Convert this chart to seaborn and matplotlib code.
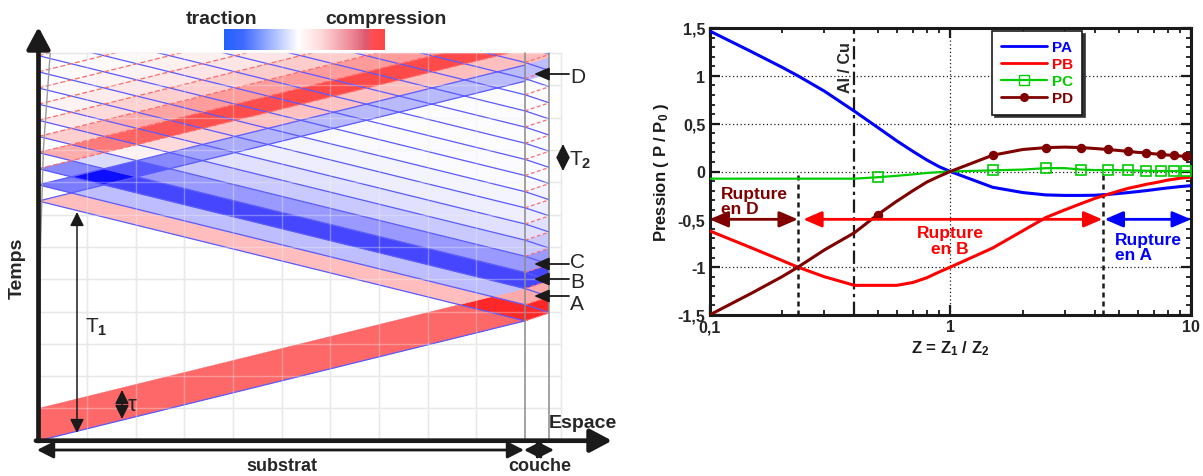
import numpy as np
import matplotlib
matplotlib.use("Agg")
import matplotlib.pyplot as plt
import seaborn as sns
from matplotlib.colors import LinearSegmentedColormap, Normalize
from matplotlib.lines import Line2D
from matplotlib.patches import Polygon, Rectangle
from matplotlib.ticker import MultipleLocator, LogLocator, NullFormatter

# ----------------------------------------------------------------- data (right chart)
z = [0.1, 0.15, 0.2, 0.233, 0.3, 0.4, 0.5, 0.6, 0.7, 0.8, 0.9, 1.0, 1.5, 2.0, 2.5,
     3.0, 3.5, 4.0, 4.5, 5.0, 5.5, 6.0, 6.5, 7.0, 7.5, 8.0, 8.5, 9.0, 9.5, 10.0]
PA = [1.47, 1.25, 1.09, 1.0, 0.84, 0.63, 0.46, 0.32, 0.21, 0.12, 0.05, 0.0, -0.165, -0.22, -0.245,
      -0.25, -0.25, -0.248, -0.24, -0.23, -0.22, -0.21, -0.2, -0.19, -0.18, -0.172, -0.165, -0.158, -0.153, -0.148]
PB = [-0.62, -0.8, -0.93, -1.0, -1.1, -1.19, -1.19, -1.19, -1.16, -1.11, -1.05, -1.0, -0.8, -0.62, -0.48,
      -0.40, -0.335, -0.28, -0.24, -0.205, -0.175, -0.155, -0.135, -0.12, -0.105, -0.09, -0.08, -0.07, -0.065, -0.06]
PC = [-0.075, -0.075, -0.075, -0.075, -0.075, -0.075, -0.06, -0.045, -0.03, -0.015, -0.007, 0.0, 0.012, 0.02, 0.035,
      0.035, 0.02, 0.015, 0.015, 0.015, 0.012, 0.01, 0.008, 0.006, 0.005, 0.005, 0.005, 0.005, 0.005, 0.005]
PD = [-1.5, -1.27, -1.1, -1.0, -0.82, -0.64, -0.45, -0.31, -0.2, -0.11, -0.05, 0.0, 0.17, 0.23, 0.25,
      0.255, 0.25, 0.24, 0.23, 0.22, 0.21, 0.2, 0.195, 0.185, 0.18, 0.172, 0.168, 0.162, 0.158, 0.152]
z_markers = [0.5, 1.5, 2.5, 3.5, 4.5, 5.5, 6.5, 7.5, 8.5, 9.5]
series_names = ["PA", "PB", "PC", "PD"]
rupture_limits = [0.233, 4.33]
al_cu = 0.4
y_ticks = [-1.5, -1.0, -0.5, 0.0, 0.5, 1.0, 1.5]
y_tick_labels = ["-1,5", "-1", "-0,5", "0", "0,5", "1", "1,5"]
x_ticks = [0.1, 1, 10]
x_tick_labels = ["0,1", "1", "10"]

# ----------------------------------------------------------------- data (left diagram)
a_sub = 0.371          # time per unit length in substrate
a_coat = 0.5           # time per unit length in coating
L_sub, L_coat = 10.0, 0.5
t_top = 12.0
tau = 1.0              # pulse duration
inc_val = 0.62         # incident compression level
dt_band = 0.5          # reverberation period in coating (T2)
g_vals = [0.27, -0.27, -0.76, -0.42, -0.22, -0.12, -0.07, -0.04, -0.02, -0.02,
          -0.015, -0.015, -0.012, -0.012, -0.011, -0.011, -0.011, -0.011]

# ----------------------------------------------------------------- style
sns.set_theme(style="white")
plt.rcParams["font.family"] = ["Liberation Sans", "DejaVu Sans"]
plt.rcParams["mathtext.fontset"] = "custom"
plt.rcParams["mathtext.rm"] = "Liberation Sans:bold"
plt.rcParams["mathtext.bf"] = "Liberation Sans:bold"
plt.rcParams["mathtext.it"] = "Liberation Sans:bold"

fig = plt.figure(figsize=(12.03, 4.77), dpi=100)

# ================================================================= LEFT DIAGRAM
PX0, PXU = 38.5, 48.65
PY0, PYU = 441.7, 32.3
def ux(px):
    return (px - PX0) / PXU
def ut(py):
    return (PY0 - py) / PYU

axL = fig.add_axes([0, 0, 620 / 1203, 1])
axL.set_xlim(ux(0), ux(620))
axL.set_ylim(ut(477), ut(0))
axL.axis("off")

band_cmap = LinearSegmentedColormap.from_list("bw_r", [(0, 0, 1), (1, 1, 1), (1, 0, 0)])
bnorm = Normalize(-1, 1)

# light grid (under and faintly over the bands)
for zo, col, al in [(0, "#e2e2e2", 1.0), (2.5, "#f4f4f4", 0.35)]:
    for gx in list(range(1, 10)) + [10.75]:
        axL.plot([gx, gx], [0, t_top], color=col, lw=1, zorder=zo, alpha=al)
    for gt in range(1, 13):
        axL.plot([0, 10.75], [gt, gt], color=col, lw=1, zorder=zo, alpha=al)

clip_sub = Rectangle((0, 0), L_sub, t_top, transform=axL.transData)
clip_coat = Rectangle((L_sub, 0), L_coat, t_top, transform=axL.transData)

t_arr = L_sub * a_sub
T_ref = 2 * t_arr

def partition(intervals, lo, hi):
    out, cur = [], lo
    for a0, b0, v in intervals:
        if a0 > cur:
            out.append((cur, a0, 0.0))
        out.append((a0, b0, v))
        cur = b0
    if cur < hi:
        out.append((cur, hi, 0.0))
    return out

right_int = [(0.0, tau, inc_val)] + [(T_ref + k * dt_band, T_ref + (k + 1) * dt_band, -g)
                                      for k, g in enumerate(g_vals) if T_ref + k * dt_band < t_top]
left_int = [(T_ref + k * dt_band, T_ref + (k + 1) * dt_band, g) for k, g in enumerate(g_vals)]
R = partition(right_int, -5.0, 13.0)
S = partition(left_int, -2.0, 17.0)

def pt(r, s):
    return ((s - r) / (2 * a_sub), (s + r) / 2)

for r0, r1, fv in R:
    for s0, s1, gv in S:
        v = fv + gv
        if abs(v) < 0.01:
            continue
        col = band_cmap(bnorm(np.clip(v, -1, 1)))
        poly = Polygon([pt(r0, s0), pt(r1, s0), pt(r1, s1), pt(r0, s1)], closed=True,
                       facecolor=col, edgecolor=col, lw=0.3, alpha=0.95, zorder=1)
        axL.add_patch(poly)
        poly.set_clip_path(clip_sub)

# coating cells
for k, g in enumerate(g_vals):
    u0 = t_arr + k * dt_band
    v = g + (inc_val if (k + 1) * dt_band <= tau + 1e-9 else 0.0)
    col = band_cmap(bnorm(np.clip(v, -1, 1)))
    poly = Polygon([(L_sub, u0), (L_sub + L_coat, u0 + L_coat * a_coat),
                    (L_sub + L_coat, u0 + L_coat * a_coat + dt_band), (L_sub, u0 + dt_band)],
                   closed=True, facecolor=col, edgecolor=col, lw=0.3, alpha=0.95, zorder=1)
    axL.add_patch(poly)
    poly.set_clip_path(clip_coat)
for k, g in enumerate(g_vals[:3]):
    u0 = T_ref + t_arr + k * dt_band
    col = band_cmap(bnorm(np.clip(-g, -1, 1)))
    poly = Polygon([(L_sub, u0), (L_sub + L_coat, u0 + L_coat * a_coat),
                    (L_sub + L_coat, u0 + L_coat * a_coat + dt_band), (L_sub, u0 + dt_band)],
                   closed=True, facecolor=col, edgecolor=col, lw=0.3, alpha=0.95, zorder=1)
    axL.add_patch(poly)
    poly.set_clip_path(clip_coat)

# boundary lines in substrate
xs = np.array([0.0, L_sub])
blue_line = "#5a5aff"
red_line = "#ff6a6a"
for s0, s1, g in left_int:
    ln, = axL.plot(xs, s0 - a_sub * xs, color=blue_line, lw=0.9, zorder=2)
    ln.set_clip_path(clip_sub)
ln, = axL.plot(xs, left_int[-1][1] - a_sub * xs, color=blue_line, lw=0.9, zorder=2)
ln.set_clip_path(clip_sub)
ln, = axL.plot(xs, 0.0 + a_sub * xs, color=blue_line, lw=0.9, zorder=2)
ln.set_clip_path(clip_sub)
for j, (r0, r1, v) in enumerate(right_int[1:]):
    if j < 2:
        ln, = axL.plot(xs, r0 + a_sub * xs, color=blue_line, lw=0.9, zorder=2)
    else:
        ln, = axL.plot(xs, r0 + a_sub * xs, color=red_line, lw=0.9, ls=(0, (4, 2)), zorder=2)
    ln.set_clip_path(clip_sub)
# zigzag in coating
for k in range(len(g_vals) + 2):
    u0 = t_arr + k * dt_band
    if u0 > t_top:
        break
    ln, = axL.plot([L_sub, L_sub + L_coat], [u0, u0 + L_coat * a_coat], color=red_line, lw=0.9,
                   ls=(0, (3, 2)), zorder=2)
    ln.set_clip_path(clip_coat)
    ln, = axL.plot([L_sub + L_coat, L_sub], [u0 + L_coat * a_coat, u0 + dt_band], color=blue_line,
                   lw=0.9, zorder=2)
    ln.set_clip_path(clip_coat)

# interface, surface and left boundary
axL.plot([L_sub, L_sub], [0, t_top], color="#8a8a8a", lw=1.1, zorder=3)
axL.plot([L_sub + L_coat, L_sub + L_coat], [0, t_top], color="#8a8a8a", lw=1.1, zorder=3)
axL.plot([0.02, 0.04, 0.1, 0.24], [0, 6, 9, t_top], color="#9a9a9a", lw=1.0, zorder=3)

# axes arrows
axL.annotate("", xy=(ux(38.5), ut(28)), xytext=(ux(38.5), ut(442)),
             arrowprops=dict(arrowstyle="-|>,head_length=0.6,head_width=0.32", lw=3.4, color="k",
                             mutation_scale=22, shrinkA=0, shrinkB=0), zorder=5)
axL.annotate("", xy=(ux(612), ut(441.7)), xytext=(ux(36), ut(441.7)),
             arrowprops=dict(arrowstyle="-|>,head_length=0.6,head_width=0.32", lw=3.4, color="k",
                             mutation_scale=22, shrinkA=0, shrinkB=0), zorder=5)
# substrate / coating arrows
darr = dict(arrowstyle="<|-|>,head_length=0.55,head_width=0.28", lw=2.0, color="k",
            mutation_scale=18, shrinkA=0, shrinkB=0)
axL.annotate("", xy=(ux(37), ut(451)), xytext=(ux(524), ut(451)), arrowprops=darr)
axL.annotate("", xy=(ux(524), ut(451)), xytext=(ux(554), ut(451)), arrowprops=darr)
axL.text(ux(282), ut(467), "substrat", ha="center", va="center", fontsize=13, fontweight="bold")
axL.text(ux(540), ut(467), "couche", ha="center", va="center", fontsize=13, fontweight="bold")
axL.text(ux(583), ut(424), "Espace", ha="center", va="center", fontsize=14, fontweight="bold")
axL.text(ux(17), ut(268), "Temps", ha="center", va="center", rotation=90, fontsize=14,
         fontweight="bold")

# colour bar
grad = np.linspace(0, 1, 256).reshape(1, -1)
bar_cmap = LinearSegmentedColormap.from_list("bar", [
    (0.0, (0.13, 0.38, 1.0)), (0.12, (0.25, 0.42, 1.0)), (0.46, (1.0, 1.0, 1.0)),
    (0.6, (1.0, 0.86, 0.86)), (0.8, (0.93, 0.52, 0.58)), (0.88, (0.86, 0.36, 0.45)),
    (0.93, (1.0, 0.3, 0.32)), (1.0, (1.0, 0.27, 0.27))])
axL.imshow(grad, cmap=bar_cmap, aspect="auto", extent=(ux(224), ux(385), ut(51), ut(30)), zorder=4)
axL.text(ux(222), ut(19), "traction", ha="center", va="center", fontsize=14, fontweight="bold")
axL.text(ux(386), ut(19), "compression", ha="center", va="center", fontsize=14, fontweight="bold")

# T1, tau, T2
thin = dict(arrowstyle="<|-|>,head_length=0.6,head_width=0.3", lw=1.1, color="k",
            mutation_scale=14, shrinkA=0, shrinkB=0)
axL.annotate("", xy=(ux(77), ut(434)), xytext=(ux(77), ut(213)), arrowprops=thin, zorder=6)
axL.text(ux(85), ut(327), "T$_1$", ha="left", va="center", fontsize=15)
axL.annotate("", xy=(ux(122), ut(420)), xytext=(ux(122), ut(391)), arrowprops=thin, zorder=6)
axL.text(ux(128), ut(406), "τ", ha="left", va="center", fontsize=16)
axL.annotate("", xy=(ux(563), ut(172)), xytext=(ux(563), ut(145)), arrowprops=thin, zorder=6)
axL.text(ux(569), ut(160), "T$_2$", ha="left", va="center", fontsize=15)

# A B C D pointers
ptr = dict(arrowstyle="-|>,head_length=0.7,head_width=0.3", lw=1.3, color="k",
           mutation_scale=13, shrinkA=0, shrinkB=0)
for lab, py_arrow, py_text in [("A", 297, 305), ("B", 280, 282), ("C", 265, 263), ("D", 75, 77)]:
    axL.annotate("", xy=(ux(534), ut(py_arrow)), xytext=(ux(569), ut(py_arrow)), arrowprops=ptr,
                 zorder=6)
    axL.text(ux(570), ut(py_text), lab, ha="left", va="center", fontsize=15)

# ================================================================= RIGHT CHART
axR = fig.add_axes([709.5 / 1203, 1 - 316 / 477, 481.5 / 1203, 287 / 477])
axR.set_facecolor("white")
axR.set_xscale("log")
axR.set_xlim(0.1, 10)
axR.set_ylim(-1.5, 1.5)

dot = (0, (1, 2))
for yv in [1.0, 0.5, 0.0, -1.0]:
    axR.axhline(yv, color="k", lw=0.9, ls=dot, zorder=1)
axR.axvline(1.0, color="k", lw=0.9, ls=dot, zorder=1)
for xv in rupture_limits:
    axR.plot([xv, xv], [-1.5, 0.0], color="k", lw=1.8, ls=(0, (2, 1.6)), zorder=1)
axR.axvline(al_cu, color="k", lw=1.6, ls=(0, (6, 2, 1.5, 2)), zorder=1)

colors = {"PA": "#0000ff", "PB": "#ff0000", "PC": "#00cc00", "PD": "#800000"}
sns.lineplot(x=z, y=PA, ax=axR, color=colors["PA"], lw=2.2, sort=False, estimator=None, zorder=3)
sns.lineplot(x=z, y=PB, ax=axR, color=colors["PB"], lw=2.2, sort=False, estimator=None, zorder=3)
sns.lineplot(x=z, y=PC, ax=axR, color=colors["PC"], lw=1.6, sort=False, estimator=None, zorder=3)
sns.lineplot(x=z, y=PD, ax=axR, color=colors["PD"], lw=2.2, sort=False, estimator=None, zorder=3)
idx = [z.index(m) for m in z_markers]
axR.plot([z[i] for i in idx], [PC[i] for i in idx], ls="none", marker="s", ms=7.5, mfc="none",
         mec=colors["PC"], mew=1.2, zorder=4)
axR.plot([z[i] for i in idx], [PD[i] for i in idx], ls="none", marker="o", ms=5.8,
         color=colors["PD"], zorder=4)

# rupture arrows
def dbl(x0, x1, c):
    axR.annotate("", xy=(x0, -0.5), xytext=(x1, -0.5),
                 arrowprops=dict(arrowstyle="<|-|>,head_length=0.7,head_width=0.3", lw=2.0, color=c,
                                 mutation_scale=16, shrinkA=0, shrinkB=0), zorder=5)
dbl(0.1, rupture_limits[0], colors["PD"])
dbl(0.245, rupture_limits[1] * 0.99, colors["PB"])
dbl(rupture_limits[1] * 1.01, 10, colors["PA"])
axR.text(0.112, -0.31, "Rupture\nen D", color=colors["PD"], fontsize=12.5, fontweight="bold",
         ha="left", va="center", linespacing=1.05, zorder=6)
axR.text(1.0, -0.72, "Rupture\nen B", color=colors["PB"], fontsize=12.5, fontweight="bold",
         ha="center", va="center", linespacing=1.05, zorder=6)
axR.text(4.83, -0.79, "Rupture\nen A", color=colors["PA"], fontsize=12.5, fontweight="bold",
         ha="left", va="center", linespacing=1.05, zorder=6)
axR.text(0.368, 1.10, "Al / Cu", rotation=90, fontsize=11.5, fontweight="bold", ha="center",
         va="center", zorder=6)

axR.set_yticks(y_ticks)
axR.set_yticklabels(y_tick_labels, fontweight="bold", fontsize=11.5)
axR.yaxis.set_minor_locator(MultipleLocator(0.1))
axR.set_xticks(x_ticks)
axR.set_xticklabels(x_tick_labels, fontweight="bold", fontsize=11.5)
axR.xaxis.set_minor_locator(LogLocator(base=10, subs=np.arange(2, 10)))
axR.xaxis.set_minor_formatter(NullFormatter())
axR.tick_params(which="major", direction="in", length=7, width=1.6, top=True, right=True,
                bottom=True, left=True, color="k", pad=3)
axR.tick_params(which="minor", direction="in", length=3.5, width=1.3, top=True, right=True,
                bottom=True, left=True, color="k")
for sp in axR.spines.values():
    sp.set_color("k")
    sp.set_linewidth(2.2)
axR.set_xlabel("Z = Z$_1$ / Z$_2$", fontsize=12, fontweight="bold", labelpad=3, color="k")
axR.set_ylabel("Pression ( P / P$_0$ )", fontsize=12, fontweight="bold", labelpad=5, color="k")

handles = [
    Line2D([], [], color=colors["PA"], lw=2),
    Line2D([], [], color=colors["PB"], lw=2),
    Line2D([], [], color=colors["PC"], lw=1.6, marker="s", mfc="none", mec=colors["PC"], ms=7),
    Line2D([], [], color=colors["PD"], lw=2, marker="o", ms=5.5),
]
leg = axR.legend(handles, series_names, loc="upper left",
                 bbox_to_anchor=((992 - 709.5) / 481.5, (316 - 32) / 287),
                 frameon=True, fancybox=False, shadow={"color": "0.2", "alpha": 1.0},
                 edgecolor="k", facecolor="white", framealpha=1,
                 prop={"weight": "bold", "size": 11}, handlelength=3.0, handletextpad=0.3,
                 labelspacing=0.2, borderpad=0.6, borderaxespad=0)
leg.get_frame().set_linewidth(1.2)
for txt, n in zip(leg.get_texts(), series_names):
    txt.set_color(colors[n])
leg.set_zorder(10)

fig.savefig("out.png", dpi=100)
